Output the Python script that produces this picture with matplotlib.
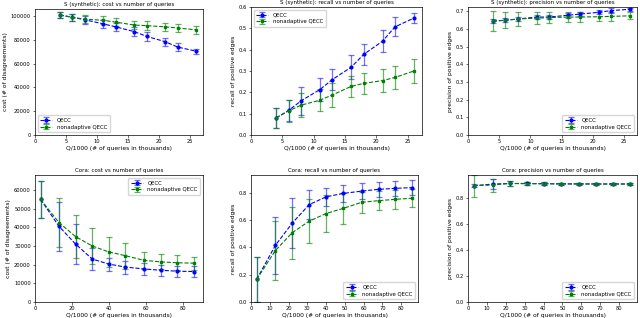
import matplotlib
matplotlib.use("Agg")
import matplotlib.pyplot as plt

# ---- data ----
x_syn = [4, 6, 8, 11, 13, 16, 18, 21, 23, 26]
x_cora = [3, 13, 22, 31, 40, 49, 59, 68, 77, 86]

syn_cost_q = [101000, 99000, 97000, 93500, 91000, 87000, 83000, 78500, 74000, 70500]
syn_cost_q_err = [2500, 3000, 3500, 3500, 3500, 3500, 3500, 3500, 3000, 2000]
syn_cost_n = [101000, 99000, 97500, 96500, 95000, 92500, 92000, 91000, 90000, 88500]
syn_cost_n_err = [2500, 3000, 3500, 3500, 3500, 3500, 3500, 3500, 3500, 3500]

syn_rec_q = [0.08, 0.115, 0.16, 0.213, 0.26, 0.318, 0.378, 0.44, 0.507, 0.548]
syn_rec_q_err = [0.045, 0.05, 0.065, 0.055, 0.05, 0.055, 0.048, 0.05, 0.045, 0.025]
syn_rec_n = [0.08, 0.113, 0.14, 0.163, 0.188, 0.228, 0.242, 0.255, 0.27, 0.30]
syn_rec_n_err = [0.048, 0.052, 0.055, 0.052, 0.055, 0.05, 0.05, 0.053, 0.055, 0.055]

syn_prec_q = [0.645, 0.65, 0.657, 0.668, 0.668, 0.678, 0.685, 0.695, 0.705, 0.712]
syn_prec_q_err = [0.01, 0.01, 0.012, 0.012, 0.012, 0.013, 0.013, 0.012, 0.012, 0.01]
syn_prec_n = [0.645, 0.65, 0.657, 0.662, 0.665, 0.668, 0.668, 0.67, 0.672, 0.675]
syn_prec_n_err = [0.055, 0.045, 0.04, 0.035, 0.03, 0.03, 0.028, 0.025, 0.025, 0.02]

cora_cost_q = [55000, 40500, 31000, 23000, 20300, 18700, 17700, 17000, 16500, 16300]
cora_cost_q_err = [10000, 13000, 10500, 6000, 3500, 3500, 3000, 3000, 3000, 3000]
cora_cost_n = [55000, 42500, 35000, 30000, 26800, 24800, 22300, 21500, 21000, 20800]
cora_cost_n_err = [10000, 13000, 11500, 9500, 8000, 7000, 4500, 4000, 4000, 3500]

cora_rec_q = [0.165, 0.415, 0.578, 0.713, 0.77, 0.795, 0.812, 0.825, 0.832, 0.838]
cora_rec_q_err = [0.165, 0.21, 0.18, 0.105, 0.065, 0.062, 0.058, 0.055, 0.053, 0.053]
cora_rec_n = [0.165, 0.377, 0.508, 0.592, 0.648, 0.685, 0.73, 0.742, 0.752, 0.76]
cora_rec_n_err = [0.165, 0.215, 0.19, 0.16, 0.135, 0.115, 0.075, 0.07, 0.068, 0.065]

cora_prec_q = [0.893, 0.905, 0.91, 0.91, 0.908, 0.907, 0.906, 0.906, 0.906, 0.906]
cora_prec_q_err = [0.01, 0.04, 0.02, 0.01, 0.01, 0.007, 0.005, 0.005, 0.004, 0.004]
cora_prec_n = [0.893, 0.898, 0.91, 0.908, 0.908, 0.907, 0.907, 0.906, 0.906, 0.906]
cora_prec_n_err = [0.085, 0.05, 0.02, 0.012, 0.01, 0.008, 0.006, 0.005, 0.005, 0.005]

titles = ["S (synthetic): cost vs number of queries",
          "S (synthetic): recall vs number of queries",
          "S (synthetic): precision vs number of queries",
          "Cora: cost vs number of queries",
          "Cora: recall vs number of queries",
          "Cora: precision vs number of queries"]
ylabels = ["cost (# of disagreements)", "recall of positive edges",
           "precision of positive edges"] * 2
xlabel = "Q/1000 (# of queries in thousands)"
labels = ["QECC", "nonadaptive QECC"]

W, H = 640, 318
fig = plt.figure(figsize=(6.4, 3.18), dpi=100)

# pixel boxes: left, top, right, bottom
boxes = [(35, 9, 203, 135), (251, 7, 422, 135), (468, 7, 637, 135),
         (35, 175, 203, 302), (251, 175, 418, 302), (468, 175, 637, 302)]

panels = [
    (x_syn, syn_cost_q, syn_cost_q_err, syn_cost_n, syn_cost_n_err, (0, 27.1), (0, 106000), "lower left"),
    (x_syn, syn_rec_q, syn_rec_q_err, syn_rec_n, syn_rec_n_err, (0, 27.3), (0, 0.6), "upper left"),
    (x_syn, syn_prec_q, syn_prec_q_err, syn_prec_n, syn_prec_n_err, (0, 27.1), (0, 0.725), "lower right"),
    (x_cora, cora_cost_q, cora_cost_q_err, cora_cost_n, cora_cost_n_err, (0, 91), (0, 68000), "upper right"),
    (x_cora, cora_rec_q, cora_rec_q_err, cora_rec_n, cora_rec_n_err, (0, 89), (0, 0.93), "lower right"),
    (x_cora, cora_prec_q, cora_prec_q_err, cora_prec_n, cora_prec_n_err, (0, 89.5), (0, 0.975), "lower right"),
]

for i, (box, p) in enumerate(zip(boxes, panels)):
    l, t, r, b = box
    ax = fig.add_axes([l / W, 1 - b / H, (r - l) / W, (b - t) / H])
    x, yq, eq, yn, en, xl, yl, loc = p
    ax.errorbar(x, yq, yerr=eq, fmt='o--', color='blue', ms=2, lw=0.8,
                capsize=2.5, elinewidth=0.9, capthick=0.9,
                ecolor=(0, 0, 1, 0.55), label=labels[0])
    ax.errorbar(x, yn, yerr=en, fmt='s--', color='green', ms=1.6, lw=0.8,
                capsize=2.5, elinewidth=0.9, capthick=0.9,
                ecolor=(0, 0.5, 0, 0.6), label=labels[1])
    ax.set_xlim(*xl)
    ax.set_ylim(*yl)
    ax.set_title(titles[i], fontsize=4.0, pad=2.5)
    ax.set_xlabel(xlabel, fontsize=4.3, labelpad=1)
    ax.set_ylabel(ylabels[i], fontsize=4.3, labelpad=2)
    ax.tick_params(labelsize=3.7, length=1.8, pad=1.2, width=0.4)
    for s in ax.spines.values():
        s.set_linewidth(0.5)
    ax.legend(loc=loc, fontsize=3.9, handlelength=2.2, borderpad=0.5,
              labelspacing=0.35, framealpha=0.8)

fig.savefig("out.png", dpi=100)
